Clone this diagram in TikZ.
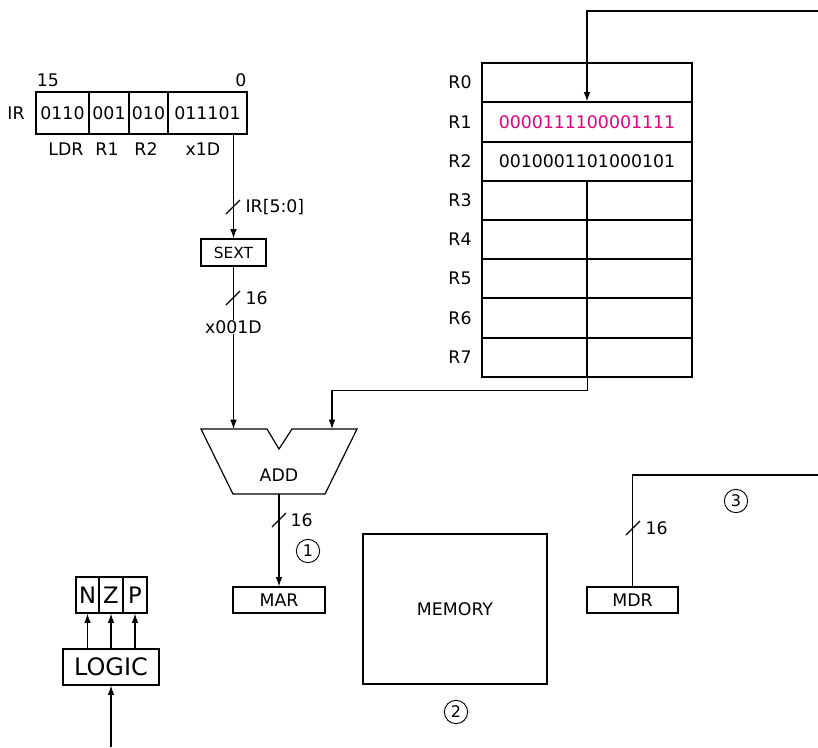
\documentclass[tikz,border=0pt]{standalone}
\usepackage{fontspec}
\setmainfont{DejaVu Sans}
\usetikzlibrary{arrows.meta,fit}
\definecolor{mag}{RGB}{228,0,124}
\begin{document}
\begin{tikzpicture}[x=0.75pt,y=-0.75pt,
  line width=0.9pt,
  every node/.style={font=\fontsize{13}{15}\selectfont, inner sep=0pt},
  box/.style={draw, rectangle, inner sep=0pt},
  arr/.style={-{Latex[length=7pt,width=5pt]}},
  circ/.style={draw, circle, minimum size=17.5pt, inner sep=0pt, line width=0.7pt, font=\fontsize{12}{14}\selectfont},
  lbl/.style={anchor=west},
  big/.style={font=\fontsize{17}{19}\selectfont}]
\useasboundingbox (0,0) rectangle (818,747);

% IR
\node[box, fit={(36,92)(89,134)}] (ir1) {};
\node[box, fit={(89,92)(129,134)}] (ir2) {};
\node[box, fit={(129,92)(168,134)}] (ir3) {};
\node[box, fit={(168,92)(247,134)}] (ir4) {};
\node (ir1t) at (ir1.center) {0110};
\node (ir2t) at (ir2.center) {001};
\node (ir3t) at (ir3.center) {010};
\node (ir4t) at (ir4.center) {011101};
\node (irl) at (16,113) {IR};
\node (b15) at (48,80) {15};
\node (b0) at (241,80) {0};
\node (fldr) at (66,149) {LDR};
\node (fr1) at (107,149) {R1};
\node (fr2) at (146,149) {R2};
\node (fx1d) at (203,149) {x1D};

% SEXT
\node[box, fit={(201,239)(266,266)}] (sext) {};
\node[font=\fontsize{11.5}{13}\selectfont] (sextt) at (sext.center) {SEXT};
\draw[arr] (sext.north |- ir4.south) -- (sext.north);
\draw (226,214) -- ++(14,-14);
\node[lbl] (irlab) at (245,207) {IR[5:0]};
\node (x1d) at (233.5,327) {x001D};
\draw (sext.south) -- (x1d.north);
\draw (226,305) -- ++(14,-14);
\node[lbl] (s16) at (245,298) {16};

% ADD
\draw (201,429) -- (267,429) -- (279,449) -- (292,429) -- (357,429) -- (325,494) -- (233,494) -- cycle;
\node (add) at (279,475) {ADD};
\coordinate (addL) at (233.5,429);
\coordinate (addR) at (332,429);
\coordinate (addO) at (279,494);
\draw[arr] (x1d.south) -- (addL);

% MAR
\node[box, fit={(233,587)(325,613)}] (mar) {};
\node (mart) at (mar.center) {MAR};
\draw[arr] (addO) -- (mar.north);
\draw (272,527) -- ++(14,-14);
\node[lbl] (a16) at (290,520) {16};
\node[circ] (c1) at (308,551) {1};

% Register file
\node[box, fit={(482,63)(692,102)}] (r0) {};
\node[box, fit={(482,102)(692,142)}] (r1) {};
\node[box, fit={(482,142)(692,181)}] (r2) {};
\node[text=mag] (r1t) at (r1.center) {0000111100001111};
\node (r2t) at (r2.center) {0010001101000101};
\node (lab0) at (460,82.5) {R0};
\node (lab1) at (460,122) {R1};
\node (lab2) at (460,161.5) {R2};
\foreach \i/\a/\b in {3/181/220,4/220/259,5/259/298,6/298/338,7/338/377} {
  \node[box, fit={(482,\a)(587,\b)}] (r\i l) {};
  \node[box, fit={(587,\a)(692,\b)}] (r\i r) {};
  \node (lab\i) at (460,{(\a+\b)/2}) {R\i};
}
\coordinate (fb) at (818,11);
\draw[arr] (fb) -| (r1.north);
\draw[arr] (r7l.south east) -- ++(0,13) -| (addR);

% MEMORY
\node[box, fit={(363,534)(547,684)}] (mem) {};
\node (memt) at (mem.center) {MEMORY};
\node[circ] (c2) at (456,712) {2};

% MDR
\node[box, fit={(587,587)(678,613)}] (mdr) {};
\node (mdrt) at (mdr.center) {MDR};
\coordinate (mdrin) at (818,475);
\draw (mdrin) -| (mdr.north);
\draw (626,535) -- ++(14,-14);
\node[lbl] (m16) at (645,528) {16};
\node[circ] (c3) at (736,501) {3};

% NZP and LOGIC
\node[box, fit={(76,577)(99,613)}] (n) {};
\node[box, fit={(99,577)(123,613)}] (z) {};
\node[box, fit={(123,577)(147,613)}] (p) {};
\node[big] (nt) at (n.center) {N};
\node[big] (zt) at (z.center) {Z};
\node[big] (pt) at (p.center) {P};
\node[box, fit={(63,649)(159,685)}] (logic) {};
\node[font=\fontsize{18}{20}\selectfont] (logict) at (logic.center) {LOGIC};
\draw[arr] (n.south |- logic.north) -- (n.south);
\draw[arr] (z.south |- logic.north) -- (z.south);
\draw[arr] (p.south |- logic.north) -- (p.south);
\coordinate (lin) at (111,747);
\draw[arr] (lin) -- (logic.south);
\end{tikzpicture}
\end{document}
